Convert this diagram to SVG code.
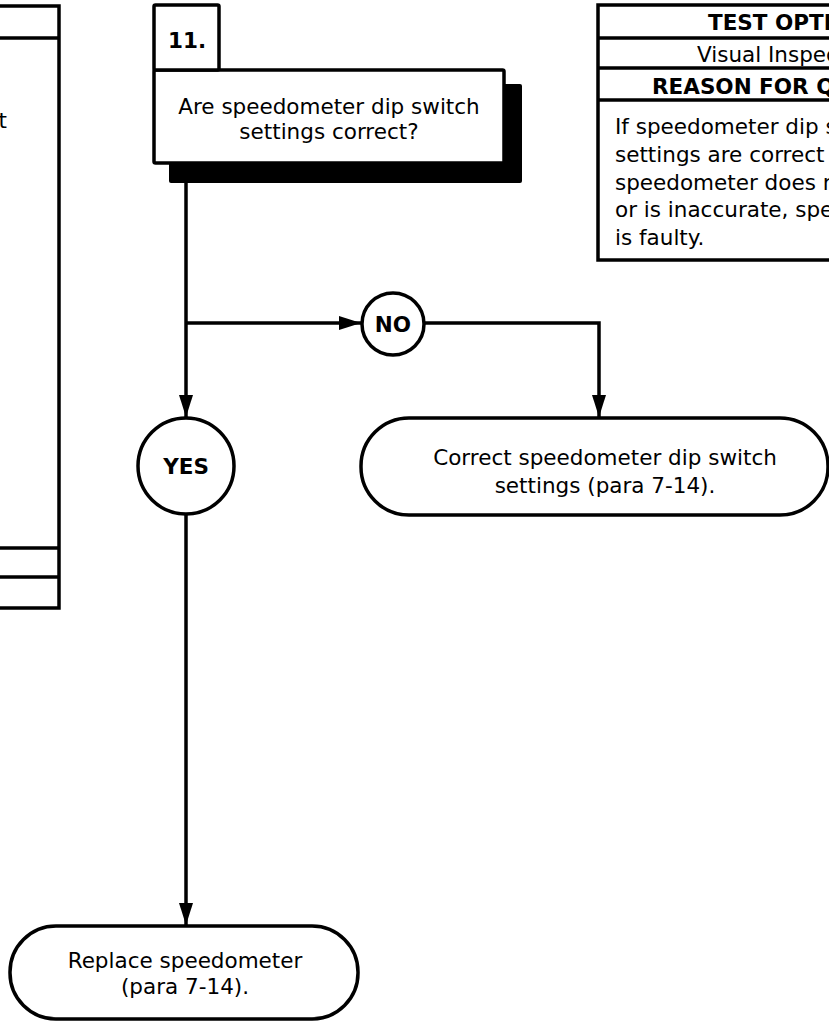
<svg xmlns="http://www.w3.org/2000/svg" width="829" height="1021" viewBox="0 0 829 1021">
<defs>
<style>
.t{font-family:"DejaVu Sans",Verdana,sans-serif;font-size:21.5px;fill:#000}
.b{font-weight:bold}
.ln{fill:none;stroke:#000;stroke-width:3.5}
.box{fill:#fff;stroke:#000;stroke-width:3.5}
.c{text-anchor:middle}
</style>
<marker id="ah" markerWidth="24" markerHeight="16" refX="22" refY="8" orient="auto" markerUnits="userSpaceOnUse">
<path d="M0,1 L22,8 L0,15 Z" fill="#000"/>
</marker>
</defs>
<rect width="829" height="1021" fill="#fff"/>

<g id="left-panel">
<rect class="box" x="-60" y="6" width="119" height="602"/>
<line class="ln" x1="-60" y1="38" x2="59" y2="38"/>
<line class="ln" x1="-60" y1="548" x2="59" y2="548"/>
<line class="ln" x1="-60" y1="577" x2="59" y2="577"/>
<text class="t" x="7" y="128" text-anchor="end">t</text>
</g>

<g id="q11">
<rect x="169" y="84" width="353" height="99" rx="2" fill="#000"/>
<rect class="box" x="154" y="70" width="350" height="93" rx="1.5"/>
<rect class="box" x="154" y="5" width="65" height="65" rx="1.5"/>
<text class="t b" x="168" y="48">11.</text>
<text class="t c" x="329" y="114">Are speedometer dip switch</text>
<text class="t c" x="329" y="139">settings correct?</text>
</g>

<g id="test-table">
<rect class="box" x="598" y="5" width="300" height="255"/>
<line class="ln" x1="598" y1="38" x2="898" y2="38"/>
<line class="ln" x1="598" y1="68" x2="898" y2="68"/>
<line class="ln" x1="598" y1="100" x2="898" y2="100"/>
<text class="t b" x="708" y="30">TEST OPTIONS</text>
<text class="t" x="697" y="62">Visual Inspection</text>
<text class="t b" x="652" y="94">REASON FOR QUESTION</text>
<text class="t" x="615" y="134">If speedometer dip switch</text>
<text class="t" x="615" y="162">settings are correct and</text>
<text class="t" x="615" y="190">speedometer does not operate</text>
<text class="t" x="615" y="217">or is inaccurate, speedometer</text>
<text class="t" x="615" y="245">is faulty.</text>
</g>

<g id="connectors">
<line class="ln" x1="186" y1="183" x2="186" y2="417" marker-end="url(#ah)"/>
<line class="ln" x1="186" y1="323" x2="361" y2="323" marker-end="url(#ah)"/>
<polyline class="ln" points="425,323 599,323 599,417" marker-end="url(#ah)"/>
<line class="ln" x1="186" y1="515" x2="186" y2="925" marker-end="url(#ah)"/>
</g>

<g id="no">
<circle class="box" cx="393" cy="324" r="31"/>
<text class="t b c" x="393" y="332">NO</text>
</g>

<g id="yes">
<circle class="box" cx="186" cy="466" r="48"/>
<text class="t b c" x="186" y="474">YES</text>
</g>

<g id="correct">
<rect class="box" x="361" y="418" width="467" height="97" rx="48"/>
<text class="t c" x="605" y="465">Correct speedometer dip switch</text>
<text class="t c" x="605" y="493">settings (para 7-14).</text>
</g>

<g id="replace">
<rect class="box" x="10" y="926" width="348" height="93" rx="46"/>
<text class="t c" x="185" y="968">Replace speedometer</text>
<text class="t c" x="185" y="994">(para 7-14).</text>
</g>
</svg>
